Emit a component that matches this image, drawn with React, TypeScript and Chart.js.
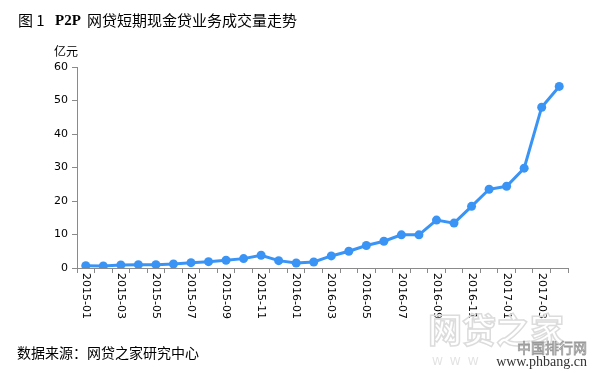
import React, { useEffect, useRef } from "react";
import { Chart, registerables } from "chart.js";

Chart.register(...registerables);

const categories = [
  "2015-01", "2015-02", "2015-03", "2015-04", "2015-05", "2015-06", "2015-07",
  "2015-08", "2015-09", "2015-10", "2015-11", "2015-12", "2016-01", "2016-02",
  "2016-03", "2016-04", "2016-05", "2016-06", "2016-07", "2016-08", "2016-09",
  "2016-10", "2016-11", "2016-12", "2017-01", "2017-02", "2017-03", "2017-04",
];
const volumes = [
  0.7, 0.6, 0.9, 1.0, 1.0, 1.2, 1.6, 1.9, 2.3, 2.8, 3.8, 2.2, 1.5, 1.8,
  3.6, 5.0, 6.7, 8.0, 9.9, 9.9, 14.3, 13.4, 18.4, 23.5, 24.4, 29.8, 48.0, 54.2,
];
const yMin = 0;
const yMax = 60;
const yStep = 10;
const titlePrefix = "图 1";
const titleLatin = "P2P";
const titleText = "网贷短期现金贷业务成交量走势";
const unitText = "亿元";
const sourceText = "数据来源：网贷之家研究中心";
const watermarkBig = "网贷之家";
const watermarkSite = "中国排行网";
const watermarkUrl = "www.phbang.cn";

const CJK = '"Noto Sans CJK SC", "Noto Sans", sans-serif';

const overlayPlugin = {
  id: "overlay",
  afterDraw(chart: any) {
    const ctx = chart.ctx as CanvasRenderingContext2D;
    const xScale = chart.scales.x;
    ctx.save();

    // rotated x labels (every other category), clockwise
    ctx.fillStyle = "#000";
    ctx.font = '11px "DejaVu Sans", sans-serif';
    ctx.textAlign = "left";
    ctx.textBaseline = "middle";
    categories.forEach((lab, i) => {
      if (i % 2 !== 0) return;
      const x = xScale.getPixelForValue(i);
      ctx.save();
      ctx.translate(x, xScale.top + 5);
      ctx.rotate(Math.PI / 2);
      ctx.fillText(lab, 0, 0);
      ctx.restore();
    });

    // title
    ctx.textBaseline = "middle";
    ctx.fillStyle = "#000";
    ctx.font = `15px ${CJK}`;
    ctx.fillText(titlePrefix, 18, 20);
    ctx.font = 'bold 15px "Liberation Serif", serif';
    ctx.fillText(titleLatin, 55, 21);
    ctx.font = `15px ${CJK}`;
    ctx.fillText(titleText, 87, 20);

    // unit
    ctx.font = `12px ${CJK}`;
    ctx.fillText(unitText, 54, 51);

    // source
    ctx.font = `14px ${CJK}`;
    ctx.fillText(sourceText, 17, 353);

    // watermark
    ctx.font = `bold 34px ${CJK}`;
    ctx.lineWidth = 1.5;
    ctx.strokeStyle = "#dcdcdc";
    ctx.fillStyle = "rgba(255,255,255,0.3)";
    ctx.fillText(watermarkBig, 428, 330);
    ctx.strokeText(watermarkBig, 428, 330);

    ctx.font = `14px ${CJK}`;
    ctx.textAlign = "right";
    ctx.fillStyle = "#e4e4e4";
    ctx.strokeStyle = "#9a9a9a";
    ctx.lineWidth = 0.8;
    ctx.fillText(watermarkSite, 587, 348);
    ctx.strokeText(watermarkSite, 587, 348);

    ctx.font = '14px "Liberation Serif", serif';
    ctx.fillStyle = "#333";
    ctx.fillText(watermarkUrl, 587, 362);

    ctx.textAlign = "left";
    ctx.font = '11px "DejaVu Sans", sans-serif';
    ctx.fillStyle = "#e2e2e2";
    ctx.fillText("W  W  W", 432, 362);

    ctx.restore();
  },
};

function ChartView() {
  const ref = useRef<HTMLCanvasElement | null>(null);
  useEffect(() => {
    if (!ref.current) return;
    const chart = new Chart(ref.current, {
      type: "line",
      data: {
        labels: categories,
        datasets: [
          {
            data: volumes,
            borderColor: "#3a94f6",
            backgroundColor: "#3a94f6",
            borderWidth: 3,
            pointRadius: 4.5,
            pointBorderWidth: 0,
            pointBackgroundColor: "#3a94f6",
            tension: 0,
          },
        ],
      },
      options: {
        responsive: false,
        animation: false,
        devicePixelRatio: 1,
        layout: { padding: { top: 67, right: 28, bottom: 0, left: 0 } },
        plugins: {
          legend: { display: false },
          tooltip: { enabled: false },
          title: { display: false },
        },
        scales: {
          x: {
            type: "category",
            offset: true,
            grid: {
              offset: true,
              drawOnChartArea: false,
              drawTicks: true,
              tickLength: 5,
              color: "#8a8a8a",
            },
            border: { color: "#8a8a8a", width: 1 },
            ticks: { display: false, autoSkip: false },
            afterFit: (s: any) => {
              s.height = 105;
            },
          },
          y: {
            min: yMin,
            max: yMax,
            ticks: {
              stepSize: yStep,
              color: "#000",
              padding: 4,
              font: { family: '"DejaVu Sans", sans-serif', size: 11 },
            },
            grid: {
              drawOnChartArea: false,
              drawTicks: true,
              tickLength: 5,
              color: "#8a8a8a",
            },
            border: { color: "#8a8a8a", width: 1 },
            afterFit: (s: any) => {
              s.width = 77;
            },
          },
        },
      },
      plugins: [overlayPlugin],
    });
    return () => chart.destroy();
  }, []);
  return <canvas ref={ref} width={596} height={373} style={{ display: "block" }} />;
}

export default function App() {
  return (
    <div style={{ position: "fixed", left: 0, top: 0, width: 596, height: 373, background: "#fff" }}>
      <ChartView />
    </div>
  );
}
